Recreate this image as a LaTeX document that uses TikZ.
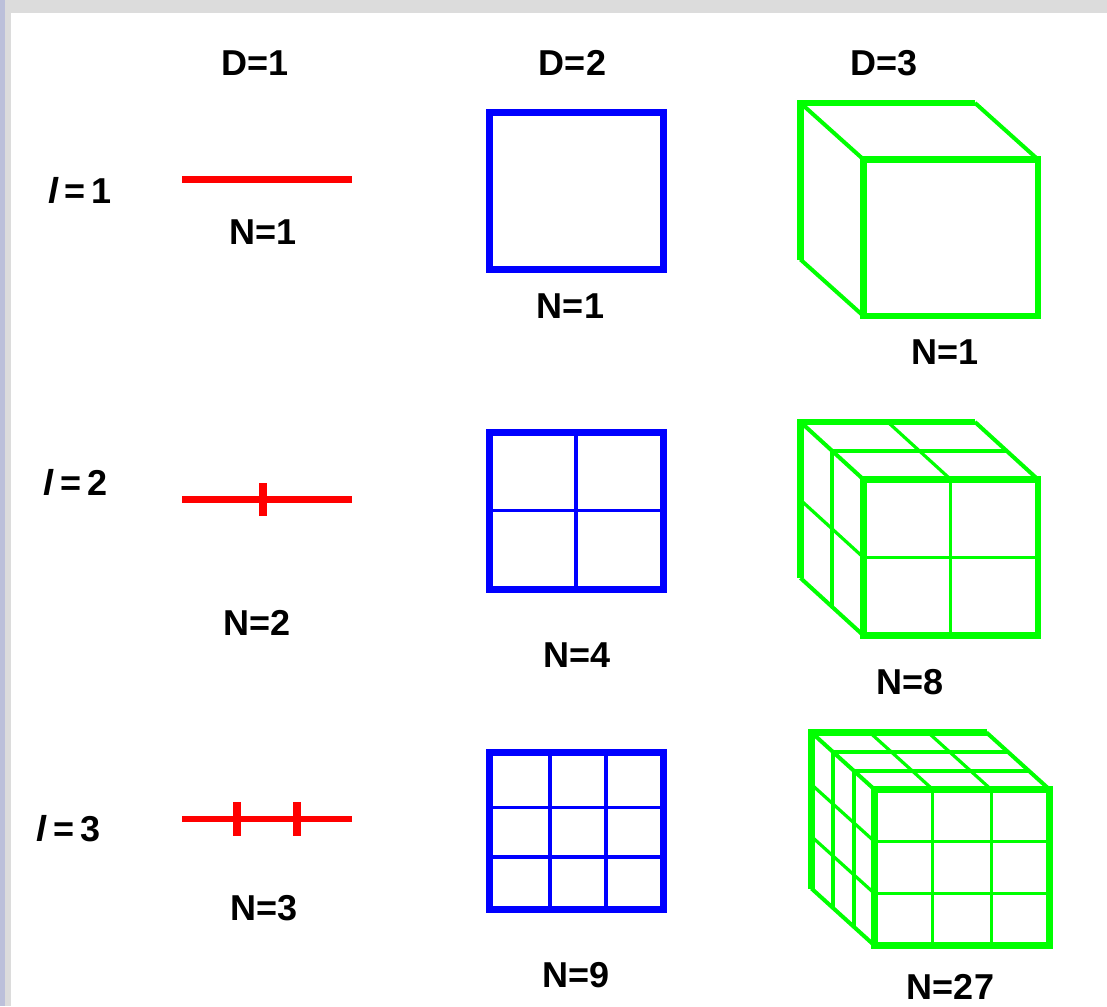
\documentclass[tikz,border=0pt]{standalone}
\usepackage{fontspec}
\setmainfont{Liberation Sans}
\definecolor{bandgray}{RGB}{220,220,220}
\definecolor{bandblue}{RGB}{188,192,218}
\definecolor{pureRed}{RGB}{255,0,0}
\definecolor{pureBlue}{RGB}{0,0,255}
\definecolor{pureGreen}{RGB}{0,255,0}
\tikzset{
  lbl/.style={font=\fontsize{36}{40}\selectfont\bfseries, inner sep=0pt, text=black},
  redbar/.style={draw=pureRed, line width=6.5},
  redtick/.style={draw=pureRed, line width=8},
  sqframe/.style={draw=pureBlue, line width=7},
  sqdiv/.style={draw=pureBlue, line width=3.8},
  cubethick/.style={draw=pureGreen, line width=6.5},
  cubediag/.style={draw=pureGreen, line width=4},
  cubemid/.style={draw=pureGreen, line width=4},
  cubethin/.style={draw=pureGreen, line width=3.2},
}
% #1 fx, #2 fy (front top-left), #3 w, #4 h, #5 dx, #6 dy (back offset), #7 n
\newcommand\greencube[7]{%
  \draw[cubethick, line join=miter] ({#1+#5+#3},{#2+#6}) -- ({#1+#5},{#2+#6}) -- ({#1+#5},{#2+#6+#4});
  \ifnum#7>1
    \foreach \k in {1,...,\numexpr#7-1\relax}{
      \draw[cubemid] ({#1+#5*\k/#7+#3},{#2+#6*\k/#7}) -- ({#1+#5*\k/#7},{#2+#6*\k/#7}) -- ({#1+#5*\k/#7},{#2+#6*\k/#7+#4});
      \draw[cubethin] ({#1+#5+#3*\k/#7},{#2+#6}) -- ({#1+#3*\k/#7},#2);
      \draw[cubethin] ({#1+#5},{#2+#6+#4*\k/#7}) -- (#1,{#2+#4*\k/#7});
      \draw[cubethin] ({#1+#3*\k/#7},#2) -- ({#1+#3*\k/#7},{#2+#4});
      \draw[cubethin] (#1,{#2+#4*\k/#7}) -- ({#1+#3},{#2+#4*\k/#7});
    }
  \fi
  \draw[cubediag] ({#1+#5},{#2+#6}) -- (#1,#2);
  \draw[cubediag] ({#1+#5+#3},{#2+#6}) -- ({#1+#3},#2);
  \draw[cubediag] ({#1+#5},{#2+#6+#4}) -- (#1,{#2+#4});
  \draw[cubethick, line join=miter] (#1,#2) rectangle ({#1+#3},{#2+#4});
}
\begin{document}
\begin{tikzpicture}[x=1pt, y={(0pt,-1pt)}]
\useasboundingbox (0,0) rectangle (1107,1006);
\fill[white] (0,0) rectangle (1107,1006);
\fill[bandgray] (0,0) rectangle (1107,13);
\fill[bandgray] (0,0) rectangle (11,1006);
\fill[bandblue] (0,0) rectangle (5,1006);

% column headers
\node[lbl] (d1) at (255.5,63) {D=1};
\node[lbl] (d2) at (572.5,63) {D=2};
\node[lbl] (d3) at (884,63) {D=3};

% row labels
\node[lbl] (l1) at (80,190) {\textit{l}\,=\,1};
\node[lbl] (l2) at (75.5,482.5) {\textit{l}\,=\,2};
\node[lbl] (l3) at (68.5,829) {\textit{l}\,=\,3};

% D=1 segments
\draw[redbar] (182,179.5) -- (352,179.5);
\draw[redbar] (182,499.5) -- (352,499.5);
\draw[redtick] (263,483) -- (263,516);
\draw[redbar] (182,819) -- (352,819);
\draw[redtick] (237,802) -- (237,836);
\draw[redtick] (296.5,802) -- (296.5,836);
\node[lbl] (n11) at (263,232.5) {N=1};
\node[lbl] (n12) at (257.5,622.5) {N=2};
\node[lbl] (n13) at (264,908.5) {N=3};

% D=2 squares
\draw[sqframe] (489,113) rectangle (663.5,269);
\draw[sqdiv] (576,432.5) -- (576,589);
\draw[sqdiv] (489,510.5) -- (663.5,510.5);
\draw[sqframe] (489,432.5) rectangle (663.5,589);
\draw[sqdiv] (550,752.5) -- (550,909);
\draw[sqdiv] (606,752.5) -- (606,909);
\draw[sqdiv] (489,807.5) -- (663.5,807.5);
\draw[sqdiv] (489,857) -- (663.5,857);
\draw[sqframe] (489,752.5) rectangle (663.5,909);
\node[lbl] (n21) at (570.5,306) {N=1};
\node[lbl] (n22) at (577,655.5) {N=4};
\node[lbl] (n23) at (576,975.5) {N=9};

% D=3 cubes
\greencube{863.5}{159.5}{174.5}{156.5}{-63}{-56.5}{1}
\greencube{863.5}{479.5}{174.5}{156}{-63}{-57.5}{2}
\greencube{874.5}{789.5}{175}{156}{-63}{-57}{3}
\node[lbl] (n31) at (945,352.5) {N=1};
\node[lbl] (n32) at (910,682.5) {N=8};
\node[lbl] (n33) at (950.5,987) {N=27};
\end{tikzpicture}
\end{document}
